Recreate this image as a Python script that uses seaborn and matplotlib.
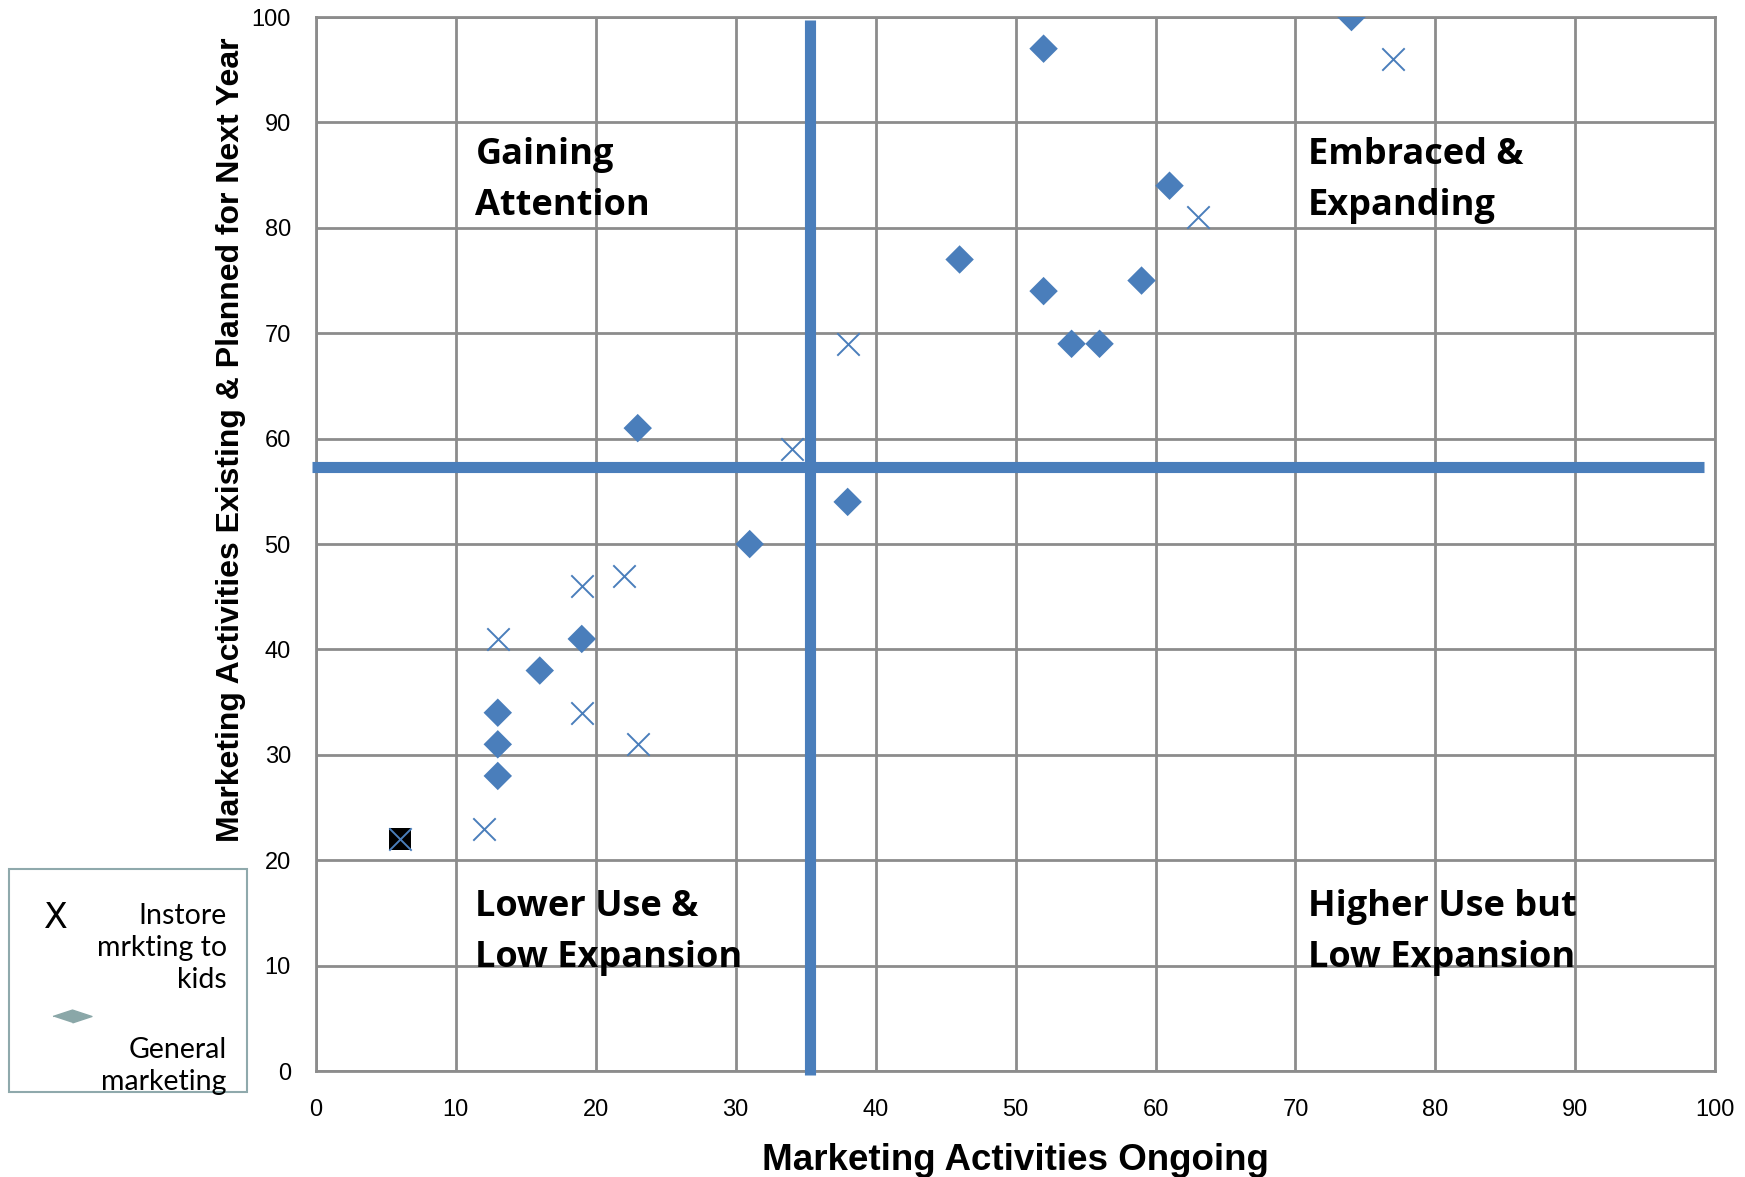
import matplotlib
matplotlib.use("Agg")
import matplotlib.pyplot as plt
from matplotlib.lines import Line2D
from matplotlib.patches import Rectangle
import seaborn as sns
import pandas as pd

# general marketing (diamonds)
general_x = [6, 13, 13, 13, 16, 19, 23, 31, 38, 46, 52, 52, 54, 56, 59, 61, 74]
general_y = [22, 28, 31, 34, 38, 41, 61, 50, 54, 77, 74, 97, 69, 69, 75, 84, 100]
# instore marketing to kids (crosses)
instore_x = [6, 12, 13, 19, 19, 22, 23, 34, 38, 63, 77]
instore_y = [22, 23, 41, 34, 46, 47, 31, 59, 69, 81, 96]

split_x = 35.3
split_y = 57.3

quadrants = ["Gaining\nAttention", "Embraced &\nExpanding",
             "Lower Use &\nLow Expansion", "Higher Use but\nLow Expansion"]
quad_pos = [(11.4, 88.6), (70.9, 88.6), (11.4, 17.3), (70.9, 17.3)]

blue = "#4A7EBB"
grid_c = "#8C8C8C"

df = pd.DataFrame({
    "x": general_x + instore_x,
    "y": general_y + instore_y,
    "series": ["General marketing"] * len(general_x) + ["Instore mrkting to kids"] * len(instore_x),
})
# the first general point sits under an instore cross and is shown as a black square
overlap = df.iloc[[0]]
general = df[df.series == "General marketing"].iloc[1:]
instore = df[df.series != "General marketing"]

sns.set_style("white")
plt.rcParams["font.family"] = ["Liberation Sans", "DejaVu Sans"]
plt.rcParams["text.color"] = "black"
plt.rcParams["axes.labelcolor"] = "black"
plt.rcParams["xtick.color"] = "black"
plt.rcParams["ytick.color"] = "black"

fig = plt.figure(figsize=(17.45, 11.77), dpi=100)
ax = fig.add_axes([0.181, 0.090, 0.802, 0.8955])

sns.scatterplot(data=general, x="x", y="y", marker="D",
                color=blue, s=210, edgecolor="none", ax=ax, zorder=4, legend=False)
sns.scatterplot(data=overlap, x="x", y="y", marker="s",
                color="black", s=260, edgecolor="none", ax=ax, zorder=4.5, legend=False)
sns.scatterplot(data=instore, x="x", y="y", marker="x",
                color=blue, s=260, linewidth=1.4, ax=ax, zorder=5, legend=False)

ax.plot([split_x, split_x], [-0.4, 99.7], color=blue, lw=8, zorder=3,
        solid_capstyle="butt", clip_on=False)
ax.plot([-0.3, 99.2], [split_y, split_y], color=blue, lw=8, zorder=3,
        solid_capstyle="butt", clip_on=False)

for label, (qx, qy) in zip(quadrants, quad_pos):
    ax.text(qx, qy, label, fontsize=26, fontweight="bold", family=["Open Sans", "DejaVu Sans"],
            va="top", ha="left", linespacing=1.55, zorder=6)

ax.set_xlim(0, 100)
ax.set_ylim(0, 100)
ax.set_xticks(range(0, 101, 10))
ax.set_yticks(range(0, 101, 10))
ax.grid(True, color=grid_c, lw=2)
ax.set_axisbelow(True)
for sp in ax.spines.values():
    sp.set_color(grid_c)
    sp.set_linewidth(2)
ax.tick_params(axis="x", labelsize=17, length=0, pad=20)
ax.tick_params(axis="y", labelsize=17, length=0, pad=18)
ax.set_xlabel("Marketing Activities Ongoing", fontsize=26.5, fontweight="bold", labelpad=16)
ax.set_ylabel("Marketing Activities Existing & Planned for Next Year", fontsize=23,
              fontweight="bold")
ax.yaxis.set_label_coords(-0.050, 0.599)

# hand-made legend box at lower left
fig.patches.append(Rectangle((0.005, 0.072), 0.1365, 0.19, transform=fig.transFigure,
                             fill=False, edgecolor="#8FA9AC", lw=1.5))
fig.text(0.032, 0.220, "X", fontsize=25, ha="center", va="center",
         color="black", family=["DejaVu Sans"])
leg_font = ["Lato", "DejaVu Sans"]
fig.text(0.130, 0.233, "Instore\nmrkting to\nkids", fontsize=20.5, ha="right", va="top",
         family=leg_font, linespacing=1.3)
fig.lines.append(Line2D([0.041], [0.137], transform=fig.transFigure,
                        marker=[(-1, 0), (0, 0.33), (1, 0), (0, -0.33)],
                        markersize=28, color="#8AA7A8", markeredgecolor="#8AA7A8"))
fig.text(0.130, 0.119, "General\nmarketing", fontsize=20.5, ha="right", va="top",
         family=leg_font, linespacing=1.3)

fig.savefig("out.png", dpi=100)
